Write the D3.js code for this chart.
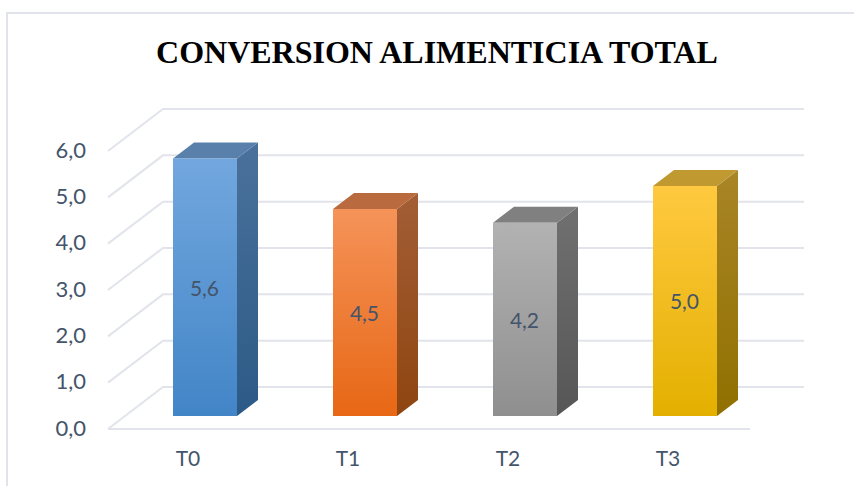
<!DOCTYPE html>
<html>
<head>
<meta charset="utf-8">
<script src="https://cdn.jsdelivr.net/npm/d3@7"></script>
<style>
  html, body { margin: 0; padding: 0; background: #fff; }
  svg { display: block; }
</style>
</head>
<body>
<svg id="chart" width="854" height="486"></svg>
<script>
const chartTitle = "CONVERSION ALIMENTICIA TOTAL";
const categories = ["T0", "T1", "T2", "T3"];
const values = [5.6, 4.5, 4.2, 5.0];
const valueTicks = [0, 1, 2, 3, 4, 5, 6];
const frontColors = [["#72a7de", "#4285c7"], ["#f59359", "#e76715"], ["#b2b2b2", "#8f8f8f"], ["#ffc940", "#e3b000"]];
const topColors = ["#5880ab", "#b96b3f", "#808080", "#c09a30"];
const sideColors = [["#4a719c", "#2c5a86"], ["#a35e36", "#8e4510"], ["#707070", "#565656"], ["#a98526", "#907000"]];

const svg = d3.select("#chart");
const comma = v => d3.format(".1f")(v).replace(".", ",");
const inkColor = "#44546a";
const gridColor = "#e1e4ea";
const labelFont = "Lato, 'Open Sans', sans-serif";

// Floor of the 3D box that holds the plot
const floorLeft = 108, floorRight = 750;
const depthX = 55, depthY = 42;
// Bars stand in the middle of the floor, so they use their own baseline
const barDepthX = 21, barDepthY = 16, barShift = 17, barWidth = 64;

const x = d3.scaleBand().domain(categories).range([floorLeft, 748]);
const y = d3.scaleLinear().domain([0, 6]).range([429, 151]);
const barY = d3.scaleLinear().domain([0, 6]).range([416, 140]);

// Outer frame
svg.append("path")
  .attr("d", d3.line()([[7, 486], [7, 13], [854, 13]]))
  .attr("fill", "none").attr("stroke", "#e0e4ea").attr("stroke-width", 2);

svg.append("text")
  .attr("x", 437).attr("y", 63)
  .attr("text-anchor", "middle")
  .attr("font-family", "'Liberation Serif', serif")
  .attr("font-weight", "bold").attr("font-size", 32)
  .attr("fill", "#000")
  .text(chartTitle);

// Gridlines wrapping the side wall and back wall
const gridLine = d3.line();
svg.append("g").selectAll("path").data(valueTicks).join("path")
  .attr("d", v => gridLine([
    [floorLeft, y(v)],
    [floorLeft + depthX, y(v) - depthY],
    [floorRight + depthX - 1, y(v) - depthY]
  ]))
  .attr("fill", "none").attr("stroke", gridColor).attr("stroke-width", 2);

// Front edge of the floor
svg.append("line")
  .attr("x1", floorLeft).attr("x2", floorRight)
  .attr("y1", y(0)).attr("y2", y(0))
  .attr("stroke", gridColor).attr("stroke-width", 2);

// Value axis labels
svg.append("g").selectAll("text").data(valueTicks).join("text")
  .attr("x", 86).attr("y", v => y(v) - 1)
  .attr("dy", "0.35em").attr("text-anchor", "end")
  .attr("font-family", labelFont).attr("font-size", 22)
  .attr("fill", inkColor)
  .text(comma);

// Category axis labels
svg.append("g").selectAll("text").data(categories).join("text")
  .attr("x", c => x(c) + x.bandwidth() / 2).attr("y", 459)
  .attr("dy", "0.35em").attr("text-anchor", "middle")
  .attr("font-family", labelFont).attr("font-size", 21)
  .attr("fill", inkColor)
  .text(c => c);

// Vertical gradients for the front and side faces
const defs = svg.append("defs");
function addGradient(id, stops) {
  const g = defs.append("linearGradient").attr("id", id)
    .attr("x1", 0).attr("y1", 0).attr("x2", 0).attr("y2", 1);
  g.append("stop").attr("offset", "0%").attr("stop-color", stops[0]);
  g.append("stop").attr("offset", "100%").attr("stop-color", stops[1]);
}
categories.forEach((c, i) => {
  addGradient("front-" + c, frontColors[i]);
  addGradient("side-" + c, sideColors[i]);
});

const bars = svg.append("g").selectAll("g")
  .data(categories.map((c, i) => ({ c, v: values[i], i })))
  .join("g");
const left = d => x(d.c) + x.bandwidth() / 2 + barShift - barWidth / 2;
const face = d3.line();

// Side face
bars.append("path")
  .attr("d", d => {
    const r = left(d) + barWidth, t = barY(d.v), b = barY(0);
    return face([[r, t], [r + barDepthX, t - barDepthY], [r + barDepthX, b - barDepthY], [r, b]]) + "Z";
  })
  .attr("fill", d => `url(#side-${d.c})`);

// Top face
bars.append("path")
  .attr("d", d => {
    const l = left(d), r = l + barWidth, t = barY(d.v);
    return face([[l, t], [l + barDepthX, t - barDepthY], [r + barDepthX, t - barDepthY], [r, t]]) + "Z";
  })
  .attr("fill", d => topColors[d.i]);

// Front face
bars.append("rect")
  .attr("x", left).attr("y", d => barY(d.v))
  .attr("width", barWidth).attr("height", d => barY(0) - barY(d.v))
  .attr("fill", d => `url(#front-${d.c})`);

// Value labels centred on each front face
bars.append("text")
  .attr("x", d => left(d) + barWidth / 2 - 0.5)
  .attr("y", d => (barY(d.v) + barY(0)) / 2 + 1)
  .attr("dy", "0.35em").attr("text-anchor", "middle")
  .attr("font-family", labelFont).attr("font-size", 21)
  .attr("fill", inkColor)
  .text(d => comma(d.v));
</script>
</body>
</html>
